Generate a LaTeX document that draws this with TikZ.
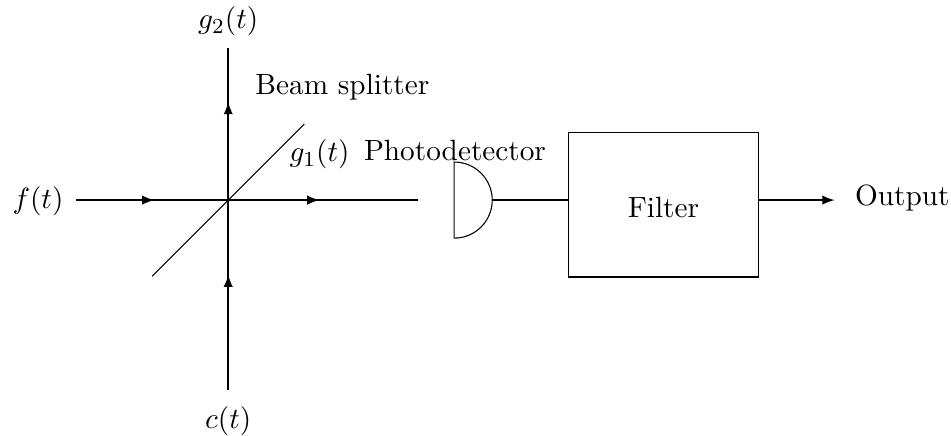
\documentclass[tikz,border=0pt,11pt]{standalone}
\usetikzlibrary{arrows,calc}
\tikzstyle{beam} = [draw,semithick]
\tikzstyle{beamarrow} = [draw,semithick,-latex]
\tikzstyle{splitter} = [draw,thin]
\tikzstyle{block} = [draw,semithick,rectangle,minimum width=2.5cm,minimum height=1.9cm,inner sep=0pt,text height=9.5pt]

\begin{document}
\begin{tikzpicture}
    \useasboundingbox (-3,-3.09) rectangle (9.5,2.63);
    % First we draw the labels
    \foreach \pos/ \name/ \text in {{(-2.5,-0.02)/finput/$f(t)$},{(0,2.35)/gtwo/$g_2(t)$},{(0,-2.9)/cinput/$c(t)$},{(1.2,0.6)/gone/$g_1(t)$},{(1.5,1.49)/splitlabel/Beam splitter},{(2.98,0.65)/pdlabel/Photodetector},{(8.86,0.03)/output/Output}}
        \node (\name) at \pos {\text};

    \node[block] (filter) at (5.72,-0.06) {Filter};

    % Named points on the beams
    \foreach \pos/ \name in {{(0,0)/O},{(-2,0)/W},{(-0.97,0)/Wtip},{(2.5,0)/E},{(1.2,0)/Etip},{(0,2)/N},{(0,1.29)/Ntip},{(0,-2.5)/S},{(0,-0.98)/Stip},{(-1,-1)/SW},{(1,1)/NE},{(2.97,0)/PD},{(2.97,0.5)/PDtop},{(2.97,-0.5)/PDbottom},{(3.47,0)/PDout},{(7.97,0)/outend}}
        \node[coordinate] (\name) at \pos {};

    % Connect the points with beams
    \foreach \source/ \dest in {W/O, O/E, S/O, O/N}
        \path[beam] (\source) -- (\dest);
    \foreach \source/ \dest in {W/Wtip, O/Etip, S/Stip, O/Ntip}
        \path[beamarrow] (\source) -- (\dest);

    \path[splitter] (SW) -- (NE);

    % The detector
    \draw[splitter] (PDbottom) -- (PDtop) arc (90:-90:0.5);

    \path[beam] (PDout) -- (PDout -| filter.west);
    \path[beamarrow] (filter.east |- PD) -- (outend);
\end{tikzpicture}
\end{document}
